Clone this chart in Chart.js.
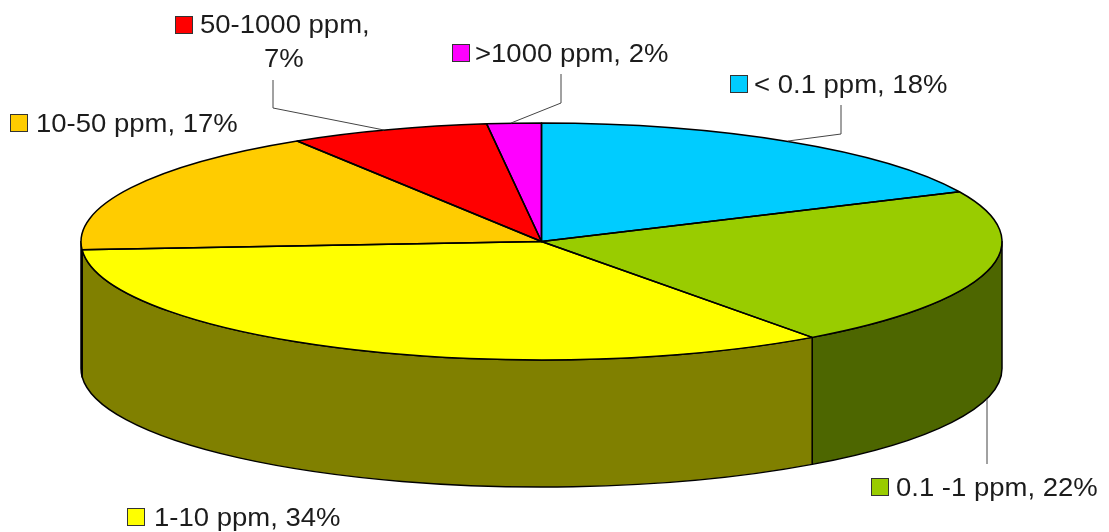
<!DOCTYPE html>
<html><head><meta charset="utf-8">
<style>html,body{margin:0;padding:0;background:#fff}canvas{display:block}</style>
<script src="https://cdn.jsdelivr.net/npm/chart.js@4/dist/chart.umd.min.js"></script>
</head><body><canvas id="c" width="1109" height="532"></canvas>
<script>
const categories = ['< 0.1 ppm', '0.1 -1 ppm', '1-10 ppm', '10-50 ppm', '50-1000 ppm', '>1000 ppm'];
const shares = [18.1, 21.9, 33.9, 17.2, 7, 1.9];
const topColors = ['#00CCFF', '#99CC00', '#FFFF00', '#FFCC00', '#FF0000', '#FF00FF'];
const wallColors = ['#006680', '#4D6600', '#808000', '#806600', '#800000', '#800080'];

const RX = 460.5, RY = 118.5, DEPTH = 127;
const labelSpec = [
  {box:[730,75], lines:[['< 0.1 ppm, 18%',754,93]], lead:[[841,105],[841,134],[788,141]]},
  {box:[871,478], lines:[['0.1 -1 ppm, 22%',896,496]], lead:[[987,399],[987,464]]},
  {box:[127,508], lines:[['1-10 ppm, 34%',154,526]], lead:null},
  {box:[10,114], lines:[['10-50 ppm, 17%',36,132]], lead:null},
  {box:[175,16], lines:[['50-1000 ppm,',200,33],['7%',264,67]], lead:[[273,80],[273,108],[384,130]]},
  {box:[452,44], lines:[['>1000 ppm, 2%',475,62]], lead:[[561,74],[561,103],[511,123]]}
];

function ellipseArc(ctx, cx, cy, a0, a1, ccw){ ctx.ellipse(cx, cy, RX, RY, 0, a0, a1, !!ccw); }

const pie3d = {
  id: 'pie3d',
  beforeDatasetsDraw(chart){
    const ctx = chart.ctx, arcs = chart.getDatasetMeta(0).data;
    const cx = arcs[0].x, cy = arcs[0].y;
    ctx.save();
    ctx.lineWidth = 1.5; ctx.strokeStyle = '#000'; ctx.lineJoin = 'round';
    arcs.forEach((a, i) => {
      const s = Math.max(a.startAngle, 0), e = Math.min(a.endAngle, Math.PI);
      if (e <= s) return;
      ctx.beginPath();
      ellipseArc(ctx, cx, cy, s, e);
      ellipseArc(ctx, cx, cy + DEPTH, e, s, true);
      ctx.closePath();
      ctx.fillStyle = wallColors[i];
      ctx.fill(); ctx.stroke();
    });
    ctx.restore();
    ctx.save();
    ctx.translate(cx, cy); ctx.scale(1, RY / RX); ctx.translate(-cx, -cy);
  },
  afterDatasetsDraw(chart){
    const ctx = chart.ctx, arcs = chart.getDatasetMeta(0).data;
    ctx.restore();
    const cx = arcs[0].x, cy = arcs[0].y;
    ctx.save();
    ctx.lineWidth = 1.5; ctx.strokeStyle = '#000'; ctx.lineJoin = 'round';
    arcs.forEach(a => {
      ctx.beginPath();
      ctx.moveTo(cx, cy);
      ellipseArc(ctx, cx, cy, a.startAngle, a.endAngle);
      ctx.closePath();
      ctx.stroke();
    });
    ctx.restore();
    ctx.save();
    ctx.font = '25px "Liberation Sans"';
    ctx.textBaseline = 'alphabetic';
    labelSpec.forEach((l, i) => {
      if (l.lead){
        ctx.strokeStyle = '#444'; ctx.lineWidth = 1;
        ctx.beginPath();
        l.lead.forEach((p, k) => k ? ctx.lineTo(p[0], p[1]) : ctx.moveTo(p[0], p[1]));
        ctx.stroke();
      }
      ctx.fillStyle = topColors[i];
      ctx.fillRect(l.box[0] + .5, l.box[1] + .5, 17, 17);
      ctx.strokeStyle = '#333'; ctx.lineWidth = 1;
      ctx.strokeRect(l.box[0] + .5, l.box[1] + .5, 17, 17);
      ctx.fillStyle = '#1c1c1c';
      l.lines.forEach(t => {
        ctx.save();
        ctx.translate(t[1], t[2]); ctx.scale(1.1, 1);
        ctx.fillText(t[0], 0, 0);
        ctx.restore();
      });
    });
    ctx.restore();
  }
};

new Chart(document.getElementById('c'), {
  type: 'pie',
  data: { labels: categories, datasets: [{ data: shares, backgroundColor: topColors, borderWidth: 0, radius: RX }] },
  options: {
    responsive: false, animation: false,
    layout: { padding: { left: 0, top: 0, right: 26, bottom: 49 } },
    plugins: { legend: { display: false }, tooltip: { enabled: false } }
  },
  plugins: [pie3d]
});
</script></body></html>
